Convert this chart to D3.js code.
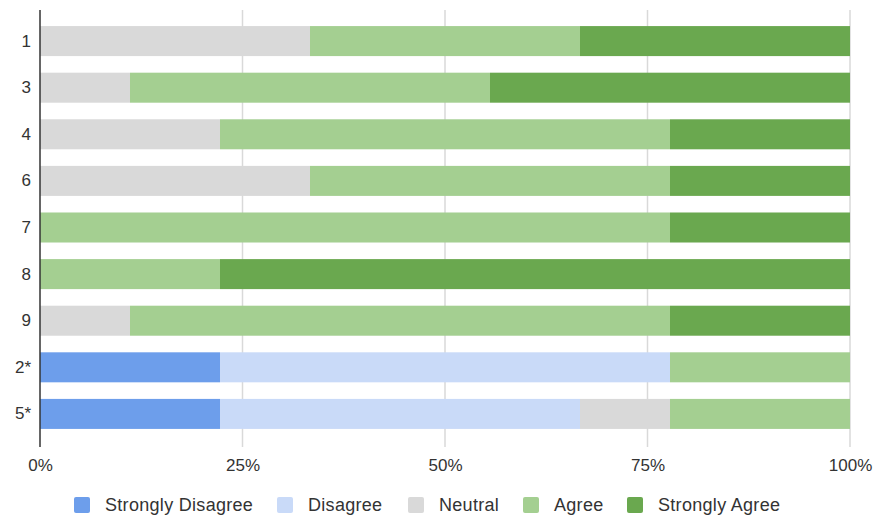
<!DOCTYPE html>
<html><head><meta charset="utf-8">
<script src="https://cdn.jsdelivr.net/npm/d3@7"></script>
<style>body{margin:0;background:#fff}svg{display:block}text{font-family:"Liberation Sans",Arial,sans-serif}</style>
</head><body><svg id="c" width="874" height="517"></svg>
<script>
const categories = ["1","3","4","6","7","8","9","2*","5*"];
const seriesNames = ["Strongly Disagree","Disagree","Neutral","Agree","Strongly Agree"];
const stronglyDisagree = [0,0,0,0,0,0,0,2,2];
const disagree        = [0,0,0,0,0,0,0,5,4];
const neutral         = [3,1,2,3,0,0,1,0,1];
const agree           = [3,4,5,4,7,2,6,2,2];
const stronglyAgree   = [3,4,2,2,2,7,2,0,0];
const tickLabels = ["0%","25%","50%","75%","100%"];
const colors = ["#6d9eeb","#c9daf8","#d9d9d9","#a4cf91","#6aa84f"];

const seriesVals = [stronglyDisagree,disagree,neutral,agree,stronglyAgree];
const rows = categories.map((c,i)=>{
  const o={cat:c};
  seriesNames.forEach((s,j)=>o[s]=seriesVals[j][i]);
  return o;
});
const stack = d3.stack().keys(seriesNames).offset(d3.stackOffsetExpand);
const layers = stack(rows);

const svg = d3.select("#c");
const x = d3.scaleLinear().domain([0,1]).range([40,850]);
const y = d3.scaleBand().domain(categories).range([10,445]).paddingInner(0.356).paddingOuter(0.345);

svg.append("g").selectAll("line").data([0.25,0.5,0.75,1]).join("line")
  .attr("x1",d=>x(d)).attr("x2",d=>x(d)).attr("y1",10).attr("y2",447)
  .attr("stroke","#d9d9d9").attr("stroke-width",1.5);

svg.append("g").selectAll("g").data(layers).join("g")
  .attr("fill",(d,i)=>colors[i])
  .selectAll("rect").data(d=>d.filter(p=>p[1]-p[0]>0)).join("rect")
  .attr("x",d=>x(d[0])).attr("width",d=>x(d[1])-x(d[0]))
  .attr("y",d=>y(d.data.cat)).attr("height",y.bandwidth());

svg.append("line").attr("x1",40).attr("x2",40).attr("y1",10).attr("y2",447)
  .attr("stroke","#333").attr("stroke-width",1.5);

const xAxis = d3.axisBottom(x).tickValues([0,0.25,0.5,0.75,1]).tickFormat((d,i)=>tickLabels[i]).tickSize(0).tickPadding(0);
const gx = svg.append("g").attr("transform","translate(0,471)").call(xAxis);
gx.select(".domain").remove();
gx.selectAll("text").attr("font-size",17).attr("fill","#333").attr("dy",0).attr("font-family","Liberation Sans, Arial, sans-serif");

const yAxis = d3.axisLeft(y).tickSize(0).tickPadding(0);
const gy = svg.append("g").attr("transform","translate(31,0)").call(yAxis);
gy.select(".domain").remove();
gy.selectAll("text").attr("font-size",17).attr("fill","#333").attr("font-family","Liberation Sans, Arial, sans-serif");

const legX = [74,277,408,523,627];
const lg = svg.append("g").selectAll("g").data(seriesNames).join("g")
  .attr("transform",(d,i)=>`translate(${legX[i]},497)`);
lg.append("rect").attr("width",16).attr("height",16).attr("rx",2).attr("fill",(d,i)=>colors[i]);
lg.append("text").attr("x",31).attr("y",14).attr("font-size",18).attr("letter-spacing",0.3).attr("fill","#333").text(d=>d);
</script></body></html>
